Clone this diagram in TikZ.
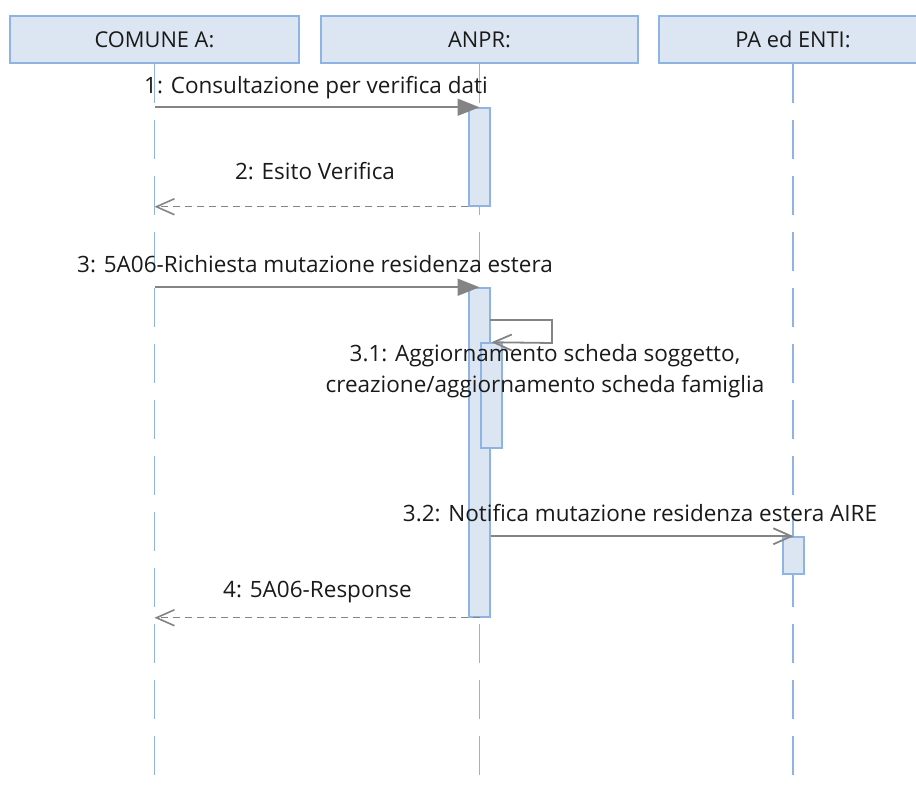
\documentclass[tikz,border=0pt]{standalone}
\usepackage{fontspec}
\setmainfont{Open Sans}
\usetikzlibrary{arrows.meta}
\definecolor{boxfill}{HTML}{DCE6F2}
\definecolor{boxline}{HTML}{8DB4E2}
\definecolor{msg}{HTML}{848484}
\definecolor{txt}{HTML}{1A1A1A}
\begin{document}
\begin{tikzpicture}[x=1pt,y=-1pt,
  header/.style={draw=boxline, fill=boxfill, line width=1.5pt, inner sep=0pt, minimum height=47pt, text=txt, font=\fontsize{21.8}{24}\selectfont},
  actbar/.style={draw=boxline, fill=boxfill, line width=1.5pt, inner sep=0pt, minimum width=21pt},
  lifeline/.style={draw=boxline, line width=1.8pt, dash pattern=on 39pt off 17pt},
  call/.style={draw=msg, line width=1.8pt, -{Triangle[length=22pt,width=17pt]}},
  reply/.style={draw=msg, line width=1.4pt, dash pattern=on 7pt off 5pt, -{Straight Barb[length=18pt,width=16pt,line width=1.6pt]}},
  async/.style={draw=msg, line width=1.8pt, -{Straight Barb[length=18pt,width=16pt]}},
  lbl/.style={text=txt, font=\fontsize{22.5}{31}\selectfont, inner sep=0pt, anchor=base, align=center}]
\useasboundingbox (0,0) rectangle (916,791);
\begin{scope}
\clip (0,0) rectangle (916,791);
% headers
\node[header, minimum width=289pt] (hc) at (154.5,39.5) {COMUNE A:};
\node[header, minimum width=317pt] (ha) at (479.5,39.5) {ANPR:};
\node[header, minimum width=268pt] (hp) at (793,39.5) {PA ed ENTI:};
% lifelines
\coordinate (ec) at (154.5,778);
\coordinate (ea) at (479.5,778);
\coordinate (ep) at (793,778);
\draw[lifeline] (hc.south) -- (ec);
\draw[lifeline] (ha.south) -- (ea);
\draw[lifeline] (hp.south) -- (ep);
% activations
\node[actbar, minimum height=98pt] (act1) at (479.5,157) {};
\node[actbar, minimum height=329pt] (act2) at (479.5,452.5) {};
\node[actbar, minimum height=105pt] (act3) at (491.5,395.5) {};
\node[actbar, minimum height=37pt] (act4) at (793.5,555.5) {};
% messages
\draw[call] (hc.south |- act1.north) -- (act1.north);
\draw[reply] (act1.south west) -- (hc.south |- act1.south west);
\draw[call] (hc.south |- act2.north) -- (act2.north);
\coordinate (s1) at (490,320);
\draw[async] (s1) -- ++(62,0) -- ++(0,23) -- (act3.north);
\draw[async] (act2.east |- act4.north) -- (act4.north);
\draw[reply] (act2.south) -- (hc.south |- act2.south);
% labels
\node[lbl] (l1) at (316,94) {1: Consultazione per verifica dati};
\node[lbl] (l2) at (315,180) {2: Esito Verifica};
\node[lbl] (l3) at (315,273) {3: 5A06-Richiesta mutazione residenza estera};
\node[lbl] (l31) at (545,393) {3.1: Aggiornamento scheda soggetto,\\creazione/aggiornamento scheda famiglia};
\node[lbl] (l32) at (640,521) {3.2: Notifica mutazione residenza estera AIRE};
\node[lbl] (l4) at (317.5,597) {4: 5A06-Response};
\end{scope}
\end{tikzpicture}
\end{document}
